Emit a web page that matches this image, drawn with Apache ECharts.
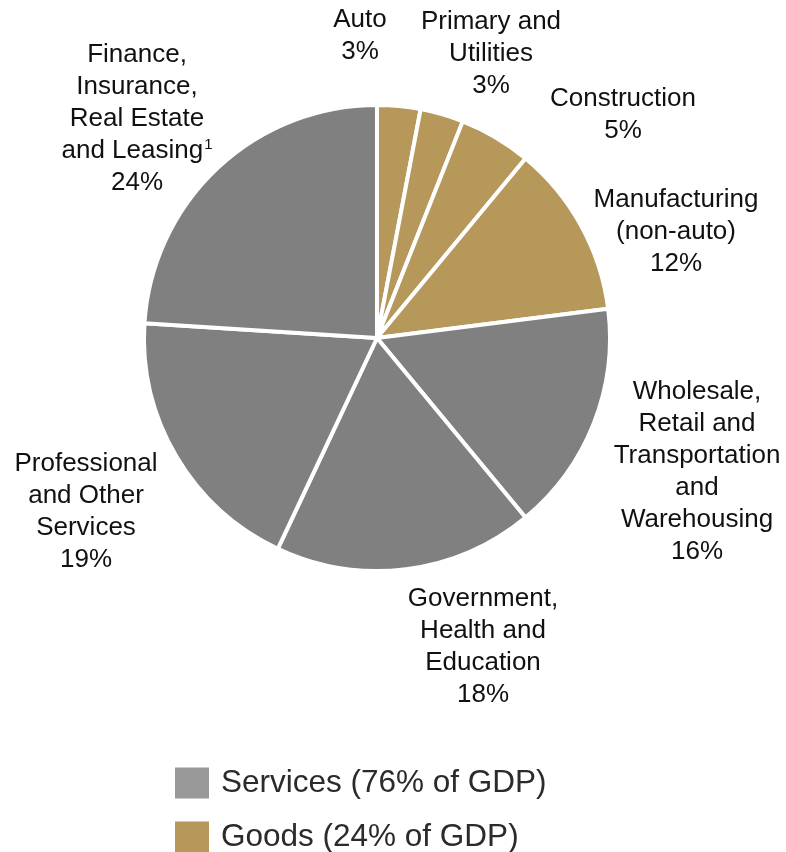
<!DOCTYPE html>
<html>
<head>
<meta charset="utf-8">
<script src="https://cdn.jsdelivr.net/npm/echarts@6/dist/echarts.min.js"></script>
<style>
  html, body { margin: 0; padding: 0; background: #fff; }
  #chart { width: 786px; height: 852px; }
</style>
</head>
<body>
<div id="chart"></div>
<script>
// GDP composition by sector, clockwise from 12 o'clock
const sectors = [
  'Auto',
  'Primary and\nUtilities',
  'Construction',
  'Manufacturing\n(non-auto)',
  'Wholesale,\nRetail and\nTransportation\nand\nWarehousing',
  'Government,\nHealth and\nEducation',
  'Professional\nand Other\nServices',
  'Finance,\nInsurance,\nReal Estate\nand Leasing{sup|1}'
];
const shares = [3, 3, 5, 12, 16, 18, 19, 24];
const groups = ['Goods', 'Goods', 'Goods', 'Goods', 'Services', 'Services', 'Services', 'Services'];
const legendNames = ['Services (76% of GDP)', 'Goods (24% of GDP)'];
const legendShares = [76, 24];
const legendGroups = ['Services', 'Goods'];

// label anchor points (centre of each text block)
const labelSpots = [
  [360, 36], [491, 54], [623, 115], [676, 232],
  [697, 472], [483, 647], [86, 512], [137, 119]
];
// top edge of each legend row
const legendTops = [767, 821];

const sliceColor = { Goods: '#B5985A', Services: '#808080' };
const legendColor = { Services: '#999999', Goods: '#B5985A' };
const FONT = 'Liberation Sans, Arial, sans-serif';

const chart = echarts.init(document.getElementById('chart'), null, { renderer: 'canvas' });

// one legend block per row so each row sits at its own height
const legends = legendNames.map((name, i) => ({
  data: [name],
  orient: 'vertical',
  left: 175,
  top: legendTops[i],
  padding: 0,
  itemWidth: 34,
  itemHeight: 31,
  icon: 'rect',
  selectedMode: false,
  textStyle: {
    fontFamily: FONT,
    fontSize: 31.5,
    color: '#2b2b2b',
    padding: [0, 0, 4, 7]
  }
}));

chart.setOption({
  backgroundColor: '#ffffff',
  animation: false,
  legend: legends,
  series: [
    {
      type: 'pie',
      center: [377, 338],
      radius: [0, 233],
      startAngle: 90,
      clockwise: true,
      avoidLabelOverlap: false,
      silent: true,
      itemStyle: { borderColor: '#ffffff', borderWidth: 4 },
      label: {
        show: true,
        position: 'outside',
        fontFamily: FONT,
        fontSize: 26,
        lineHeight: 32,
        color: '#111111',
        align: 'center',
        formatter: p => p.name + '\n' + p.value + '%',
        rich: {
          sup: {
            fontFamily: FONT,
            fontSize: 15,
            lineHeight: 32,
            verticalAlign: 'top',
            color: '#111111',
            padding: [2, 0, 0, 1]
          }
        }
      },
      labelLine: { show: false },
      labelLayout: p => ({
        x: labelSpots[p.dataIndex][0],
        y: labelSpots[p.dataIndex][1],
        align: 'center',
        verticalAlign: 'middle'
      }),
      data: sectors.map((name, i) => ({
        name: name,
        value: shares[i],
        itemStyle: { color: sliceColor[groups[i]] }
      }))
    },
    {
      // zero-size series that only feeds the legend swatches
      type: 'pie',
      center: [377, 338],
      radius: [0, 0],
      silent: true,
      label: { show: false },
      labelLine: { show: false },
      data: legendNames.map((name, i) => ({
        name: name,
        value: legendShares[i],
        itemStyle: { color: legendColor[legendGroups[i]] }
      }))
    }
  ]
});
</script>
</body>
</html>
